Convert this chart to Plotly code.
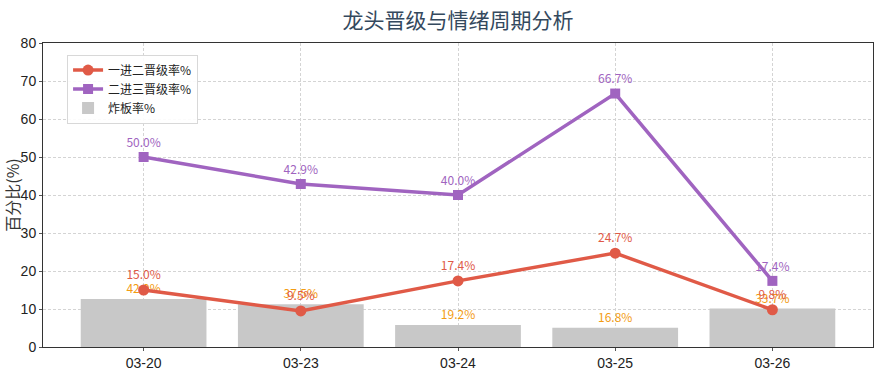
import plotly.graph_objects as go

dates = ["03-20", "03-23", "03-24", "03-25", "03-26"]
rate_1to2 = [15.0, 9.5, 17.4, 24.7, 9.8]
rate_2to3 = [50.0, 42.9, 40.0, 66.7, 17.4]
zhaban = [42.0, 37.5, 19.2, 16.8, 33.7]
bar_scale = 0.3
y_ticks = [0, 10, 20, 30, 40, 50, 60, 70, 80]

cjk = "Noto Sans CJK SC, sans-serif"
latin = "Liberation Sans, Arial, sans-serif"

fig = go.Figure()
fig.add_trace(go.Bar(
    x=dates, y=[v * bar_scale for v in zhaban], name="炸板率%",
    marker=dict(color="#c8c8c8", line=dict(width=0)), width=0.8,
    text=[f"{v:.1f}%" for v in zhaban], textposition="outside",
    textfont=dict(color="#f39c12", size=12, family=cjk), cliponaxis=False,
    hoverinfo="skip", legendrank=3))
fig.add_trace(go.Scatter(
    x=dates, y=rate_1to2, name="一进二晋级率%", mode="lines+markers+text",
    line=dict(color="#e05a47", width=3.5), marker=dict(symbol="circle", size=11, color="#e05a47"),
    text=[f"{v:.1f}%" for v in rate_1to2], textposition="top center",
    textfont=dict(color="#e05a47", size=12, family=cjk), cliponaxis=False, legendrank=1))
fig.add_trace(go.Scatter(
    x=dates, y=rate_2to3, name="二进三晋级率%", mode="lines+markers+text",
    line=dict(color="#a064c0", width=3.5), marker=dict(symbol="square", size=10, color="#a064c0"),
    text=[f"{v:.1f}%" for v in rate_2to3], textposition="top center",
    textfont=dict(color="#a064c0", size=12, family=cjk), cliponaxis=False, legendrank=2))

fig.update_layout(
    width=885, height=374,
    margin=dict(l=43, r=12, t=43, b=27, autoexpand=False),
    paper_bgcolor="white", plot_bgcolor="white",
    title=dict(text="龙头晋级与情绪周期分析", xref="paper", x=0.5, xanchor="center",
               y=1 - 21 / 374, yanchor="middle",
               font=dict(size=21, color="#34495e", family=cjk)),
    showlegend=True,
    legend=dict(x=0.029, y=0.962, xanchor="left", yanchor="top",
                bgcolor="rgba(255,255,255,0.9)", bordercolor="#d8d8d8", borderwidth=1,
                font=dict(size=12, family=cjk, color="#222")),
    bargap=0.2,
)
fig.update_xaxes(
    range=[-0.64, 4.64], showline=True, linecolor="#333", linewidth=1, mirror=True,
    showgrid=True, gridcolor="#d4d4d4", griddash="3px,2px", gridwidth=0.8,
    ticks="outside", ticklen=3, tickcolor="#555", automargin=False,
    tickfont=dict(size=14, family=latin, color="#222"))
fig.update_yaxes(
    range=[0, 80], tickvals=y_ticks, showline=True, linecolor="#333", linewidth=1, mirror=True,
    showgrid=True, gridcolor="#d4d4d4", griddash="3px,2px", gridwidth=0.8,
    ticks="outside", ticklen=3, tickcolor="#555", automargin=False,
    tickfont=dict(size=14, family=latin, color="#222"),
    title=dict(text="百分比(%)", font=dict(size=16, family=cjk, color="#333"), standoff=2),
    zeroline=False)

fig.write_html("out.html", config={"displayModeBar": False},
               post_script="document.body.style.margin='0';document.body.style.padding='0';")
